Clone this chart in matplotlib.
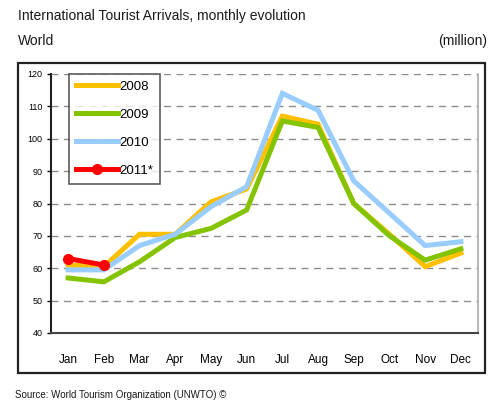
import matplotlib
matplotlib.use("Agg")
import matplotlib.pyplot as plt
from matplotlib.patches import Rectangle

plt.rcParams['font.family'] = ['Liberation Sans', 'DejaVu Sans']

months = ["Jan", "Feb", "Mar", "Apr", "May", "Jun", "Jul", "Aug", "Sep", "Oct", "Nov", "Dec"]
y2008 = [61.0, 60.5, 70.5, 70.5, 80.5, 84.5, 107.0, 104.5, 80.0, 70.5, 60.5, 64.7]
y2009 = [57.0, 55.8, 62.0, 69.5, 72.3, 78.0, 105.5, 103.5, 80.0, 70.0, 62.5, 66.0]
y2010 = [59.5, 59.5, 67.0, 70.5, 79.0, 85.2, 114.0, 108.8, 87.0, 77.0, 67.0, 68.2]
y2011 = [63.0, 61.0]
yticks = [40, 50, 60, 70, 80, 90, 100, 110, 120]

W, H = 489, 404
fig = plt.figure(figsize=(W / 100, H / 100), dpi=100)

def fx(px):
    return px / W

def fy(py):
    return 1 - py / H

# outer frame
fig.patches.append(Rectangle((fx(18), fy(373)), fx(485) - fx(18), fy(63) - fy(373),
                             transform=fig.transFigure, fill=False, edgecolor='#222222', lw=1.6))

ax = fig.add_axes([fx(51), fy(333), fx(478) - fx(51), fy(74) - fy(333)])
x = list(range(12))
lw = 3.6
ax.plot(x, y2008, color='#FFC000', lw=lw, solid_joinstyle='miter', label='2008', zorder=3)
ax.plot(x, y2009, color='#84C300', lw=lw, solid_joinstyle='miter', label='2009', zorder=4)
ax.plot(x, y2010, color='#99CCFF', lw=lw, solid_joinstyle='miter', label='2010', zorder=5)
ax.plot(x[:len(y2011)], y2011, color='#FF0000', lw=lw, marker='o', markersize=7, label='2011*', zorder=6)

ax.set_xlim(-0.48, 11.48)
ax.set_ylim(40, 120)
ax.set_yticks(yticks)
ax.set_yticklabels([str(v) for v in yticks], fontsize=6.5)
ax.set_xticks(x)
ax.set_xticklabels(months, fontsize=8.5)
ax.tick_params(axis='x', length=0, pad=15)
ax.tick_params(axis='y', length=3, width=1, direction='out', pad=3)
for v in yticks[1:]:
    ax.axhline(v, color='#8c8c8c', lw=1.0, ls=(0, (5, 4)), zorder=1)
ax.spines['left'].set_color('#222222')
ax.spines['left'].set_linewidth(1.5)
ax.spines['bottom'].set_color('#444444')
ax.spines['bottom'].set_linewidth(1.5)
ax.spines['top'].set_visible(False)
ax.spines['right'].set_color('#aaaaaa')
ax.spines['right'].set_linewidth(1.2)

leg = ax.legend(loc='upper left', bbox_to_anchor=(fx(69 - 51) / (fx(478) - fx(51)), 1.0),
                fontsize=9.5, frameon=True, fancybox=False, handlelength=3.2,
                labelspacing=1.2, borderpad=0.5, handletextpad=0.1, borderaxespad=0)
leg.get_frame().set_edgecolor('#333333')
leg.get_frame().set_linewidth(1.2)

fig.text(fx(18), fy(16), "International Tourist Arrivals, monthly evolution", fontsize=10,
         va='center', ha='left', color='#1a1a1a')
fig.text(fx(18), fy(41), "World", fontsize=10, va='center', ha='left', color='#1a1a1a')
fig.text(fx(487), fy(41), "(million)", fontsize=10, va='center', ha='right', color='#1a1a1a')
fig.text(fx(15), fy(395), "Source: World Tourism Organization (UNWTO) \u00a9", fontsize=7,
         va='center', ha='left', color='#1a1a1a')

fig.savefig("out.png", dpi=100)
